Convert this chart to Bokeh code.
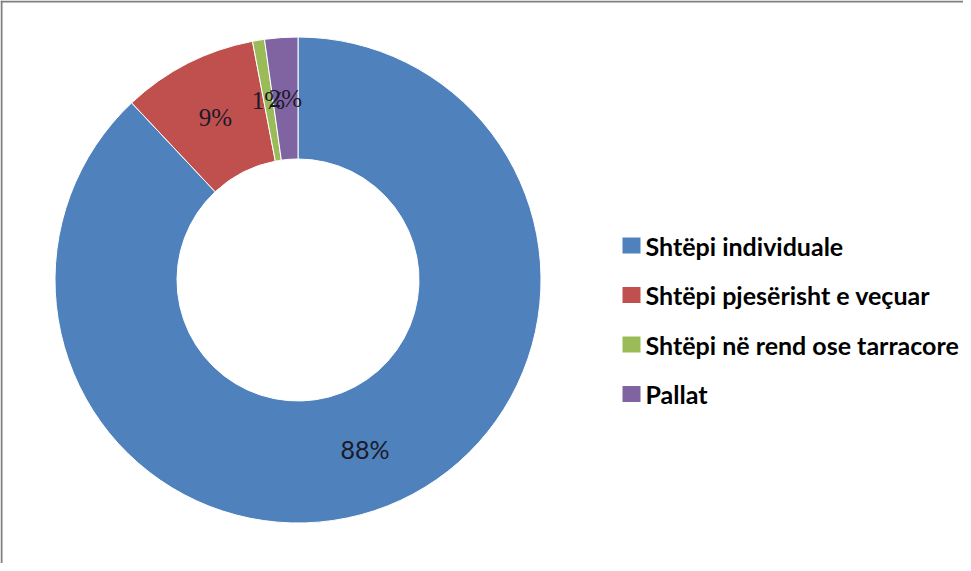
import numpy as np
from bokeh.plotting import figure
from bokeh.models import Range1d, Span, ColumnDataSource
from bokeh.core.properties import value
from bokeh.embed import file_html
from bokeh.resources import INLINE

# ---- data ----
categories = ["Shtëpi individuale", "Shtëpi pjesërisht e veçuar",
              "Shtëpi në rend ose tarracore", "Pallat"]
shares = [88.0, 9.0, 0.8, 2.2]
labels = ["88%", "9%", "1%", "2%"]
colors = ["#4F81BD", "#C0504D", "#9BBB59", "#8064A2"]
label_fonts = ["Lato", "Liberation Serif", "Liberation Serif", "Liberation Serif"]

W, H = 963, 563
p = figure(width=W, height=H, output_backend="svg", toolbar_location=None,
           x_range=Range1d(0, W), y_range=Range1d(0, H), min_border=0,
           match_aspect=False)
p.axis.visible = False
p.grid.visible = False
p.outline_line_color = None
p.background_fill_color = "white"
p.border_fill_color = "white"

# donut geometry (pixel-like data units)
cx, cy = 297.5, 283.5
r_out, r_in = 243, 121

vals = np.array(shares, dtype=float)
frac = vals / vals.sum()
cum_end = np.cumsum(frac)
cum_start = cum_end - frac
start = np.pi / 2 - 2 * np.pi * cum_start
end = np.pi / 2 - 2 * np.pi * cum_end
mid = (start + end) / 2
r_mid = (r_out + r_in) / 2

src = ColumnDataSource(dict(
    cat=categories, start=start, end=end, color=colors,
    lx=cx + r_mid * np.cos(mid), ly=cy + r_mid * np.sin(mid),
    label=labels, font=label_fonts,
))

p.annular_wedge(x=cx, y=cy, inner_radius=r_in, outer_radius=r_out,
                start_angle="start", end_angle="end", direction="clock",
                fill_color="color", line_color="white", line_width=1,
                source=src)

p.text(x="lx", y="ly", text="label", text_font="font",
       text_font_size="25px", text_color="#1a1a2a", text_align="center",
       text_baseline="middle", source=src)

# legend drawn from the categories
n = len(categories)
idx = np.arange(n)
leg_top = 318
row_gap = 49.5
leg_src = ColumnDataSource(dict(
    x=[631] * n, y=leg_top - idx * row_gap, tx=[645] * n,
    color=colors, cat=categories,
))
p.rect(x="x", y="y", width=18, height=16, fill_color="color",
       line_color=None, source=leg_src)
p.text(x="tx", y="y", text="cat", text_font=value("Lato"),
       text_font_style="bold", text_font_size="25px", text_color="black",
       text_baseline="middle", source=leg_src)

# chart border (top and left visible)
p.add_layout(Span(location=1, dimension="height", line_color="#7f7f7f",
                  line_width=2))
p.add_layout(Span(location=H - 1, dimension="width", line_color="#7f7f7f",
                  line_width=2))

open("out.html", "w").write(file_html(p, INLINE))
